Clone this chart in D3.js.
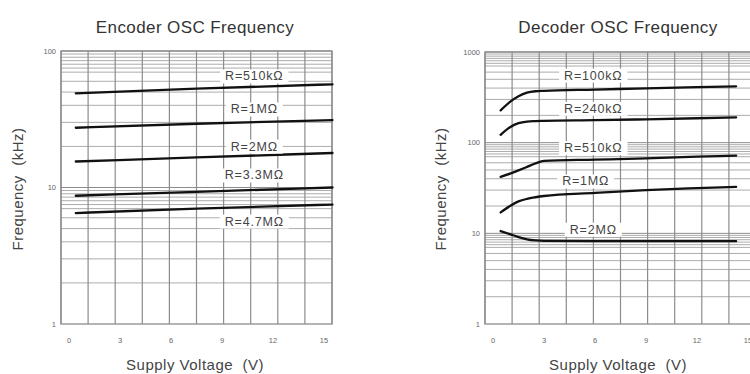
<!DOCTYPE html>
<html>
<head>
<meta charset="utf-8">
<script src="https://cdn.jsdelivr.net/npm/d3@7"></script>
<style>
  body { margin: 0; background: #fff; }
  svg { display: block; font-family: "Liberation Sans", Arial, sans-serif; }
</style>
</head>
<body>
<svg id="chart" width="750" height="374"></svg>
<script>
// supply voltage ticks, both panels
const voltTicks = [0, 3, 6, 9, 12, 15]

// encoder panel (log 1..100 kHz)
const encTitle = 'Encoder OSC Frequency'
const encFreqTicks = [1, 10, 100]
const encVolts = [0.4, 7.5, 15.5]
const enc510k = [49, 53, 57]
const enc1M = [27.4, 29.3, 31.2]
const enc2M = [15.5, 16.6, 17.9]
const enc3M3 = [8.7, 9.3, 10]
const enc4M7 = [6.5, 7.0, 7.5]
const encNames = ['R=510kΩ', 'R=1MΩ', 'R=2MΩ', 'R=3.3MΩ', 'R=4.7MΩ']
// label anchors [volts, kHz]
const encLabelAt = [[10.9, 65.6], [10.9, 37.6], [10.9, 20.1], [10.9, 12.35], [10.9, 5.68]]

// decoder panel (log 1..1000 kHz)
const decTitle = 'Decoder OSC Frequency'
const decFreqTicks = [1, 10, 100, 1000]
const decVolts = [0.45, 1, 1.5, 2, 2.5, 3, 6, 9, 12, 14.3]
const dec100k = [227, 282, 325, 356, 369, 373, 385, 398, 410, 418]
const dec240k = [122, 148, 164, 171, 173, 174, 177, 181, 186, 190]
const dec510k = [42, 45.5, 49.5, 54, 59, 63, 65, 67, 70, 72]
const dec1M = [17, 20, 22.5, 24, 25, 25.8, 28, 30, 31.5, 32.5]
const dec2M = [10.6, 9.8, 9.1, 8.6, 8.35, 8.25, 8.2, 8.2, 8.2, 8.2]
const decNames = ['R=100kΩ', 'R=240kΩ', 'R=510kΩ', 'R=1MΩ', 'R=2MΩ']
const decLabelAt = [[5.9, 555], [5.9, 239], [5.9, 88], [5.45, 37.8], [5.9, 11.1]]

// extra minor lines per decade (the scan has a denser grid near the top of each decade)
const minorSteps = [2, 3, 4, 5, 6, 7, 7.5, 8, 8.5, 9, 9.5]

const svg = d3.select('#chart')

const drawPanel = (cfg)=>{
    const g = svg.append('g')
    const x = d3.scaleLinear().domain([-0.47, 15.47]).range([cfg.left, cfg.left + 271])
    const y = d3.scaleLog().domain([1, cfg.top]).range([324, cfg.yTop])
    const [x0, x1] = x.range()
    const [y0, y1] = y.range()

    // horizontal log grid
    const decades = d3.range(Math.round(Math.log10(cfg.top)))
    const hLines = []
    decades.forEach(p=>{
        minorSteps.forEach(m=> hLines.push(m * Math.pow(10, p)))
        hLines.push(Math.pow(10, p + 1))
    })
    g.append('g').selectAll('line').data(hLines).join('line')
        .attr('x1', x0).attr('x2', x1)
        .attr('y1', d=>y(d)).attr('y2', d=>y(d))
        .attr('stroke', d=>Number.isInteger(Math.log10(d)) ? '#8c8c8c' : '#acacac')
        .attr('stroke-width', 1)

    // vertical grid: 10 even divisions, not tied to the volt ticks
    const div = d3.scaleLinear().domain([0, 10]).range([x0, x1])
    g.append('g').selectAll('line').data(d3.range(11)).join('line')
        .attr('x1', d=>div(d)).attr('x2', d=>div(d))
        .attr('y1', y0).attr('y2', y1)
        .attr('stroke', '#8c8c8c').attr('stroke-width', 1.2)

    g.append('rect')
        .attr('x', x0).attr('y', y1).attr('width', x1 - x0).attr('height', y0 - y1)
        .attr('fill', 'none').attr('stroke', '#8c8c8c').attr('stroke-width', 1.3)

    // curves
    const line = d3.line()
        .x(d=>x(d[0])).y(d=>y(d[1]))
        .curve(d3.curveMonotoneX)
    g.append('g').selectAll('path').data(cfg.series).join('path')
        .attr('d', s=>line(cfg.volts.map((v, i)=>[v, s[i]])))
        .attr('fill', 'none')
        .attr('stroke', '#111')
        .attr('stroke-width', 2.3)
        .attr('stroke-linecap', 'round')

    // curve labels on white boxes
    const lab = g.append('g').selectAll('g').data(cfg.names).join('g')
        .attr('transform', (d, i)=>`translate(${x(cfg.labelAt[i][0])},${y(cfg.labelAt[i][1])})`)
    lab.append('text')
        .attr('text-anchor', 'middle')
        .attr('dy', '0.36em')
        .attr('font-size', 12.5)
        .attr('letter-spacing', 0.8)
        .attr('fill', '#444')
        .text(d=>d)
    lab.each(function(){
        const t = d3.select(this).select('text')
        const b = t.node().getBBox()
        d3.select(this).insert('rect', 'text')
            .attr('x', b.x - 5).attr('y', b.y)
            .attr('width', b.width + 10).attr('height', b.height)
            .attr('fill', '#fff')
    })

    // tick labels
    g.append('g').selectAll('text').data(voltTicks).join('text')
        .attr('x', d=>x(d)).attr('y', 343)
        .attr('text-anchor', 'middle')
        .attr('font-size', 7.5).attr('fill', '#666')
        .text(d=>d)
    g.append('g').selectAll('text').data(cfg.freqTicks).join('text')
        .attr('x', x0 - 5).attr('y', d=>y(d))
        .attr('dy', '0.35em')
        .attr('text-anchor', 'end')
        .attr('font-size', 7.5).attr('fill', '#666')
        .text(d=>d)

    // titles
    g.append('text')
        .attr('x', cfg.titleX).attr('y', 33)
        .attr('text-anchor', 'middle')
        .attr('font-size', 17).attr('letter-spacing', 0.4).attr('fill', '#333')
        .text(cfg.title)
    g.append('text')
        .attr('x', cfg.titleX).attr('y', 370)
        .attr('text-anchor', 'middle')
        .attr('font-size', 15).attr('letter-spacing', 0.5).attr('fill', '#444')
        .attr('xml:space', 'preserve')
        .text('Supply Voltage  (V)')
    g.append('text')
        .attr('transform', `translate(${cfg.yLabelX},189) rotate(-90)`)
        .attr('text-anchor', 'middle')
        .attr('font-size', 15).attr('letter-spacing', 0.5).attr('fill', '#444')
        .attr('xml:space', 'preserve')
        .text('Frequency  (kHz)')
}

drawPanel({
    left: 61, top: 100, yTop: 51,
    title: encTitle, titleX: 195, yLabelX: 23,
    volts: encVolts,
    series: [enc510k, enc1M, enc2M, enc3M3, enc4M7],
    names: encNames, labelAt: encLabelAt,
    freqTicks: encFreqTicks
})
drawPanel({
    left: 485, top: 1000, yTop: 52,
    title: decTitle, titleX: 618, yLabelX: 446,
    volts: decVolts,
    series: [dec100k, dec240k, dec510k, dec1M, dec2M],
    names: decNames, labelAt: decLabelAt,
    freqTicks: decFreqTicks
})
</script>
</body>
</html>
